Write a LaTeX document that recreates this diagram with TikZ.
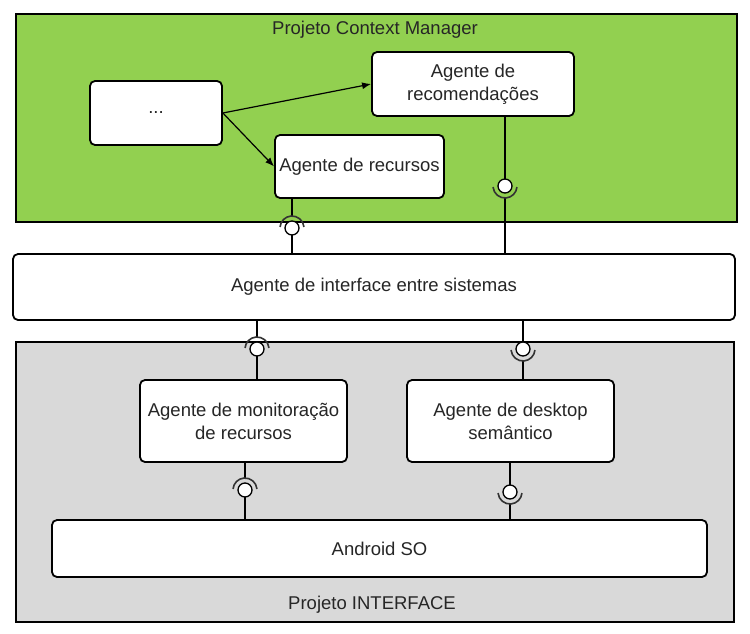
\documentclass[tikz,border=0pt]{standalone}
\usepackage{fontspec}
\setmainfont{Liberation Sans}
\definecolor{cmGreen}{HTML}{92D050}
\definecolor{ifGray}{HTML}{D9D9D9}
\definecolor{txtGray}{HTML}{262626}
\usetikzlibrary{positioning,arrows.meta,calc}

\begin{document}
\begin{tikzpicture}[x=1pt, y=1pt,
  every node/.style={text=txtGray, font=\fontsize{18.5}{23}\selectfont},
  container/.style={draw=black, line width=1.8pt, inner sep=0pt},
  agente/.style={draw=black, line width=1.8pt, rounded corners=5pt, fill=white, align=center, inner sep=0pt},
  wire/.style={black, line width=1.2pt},
  socket/.style={black!80, line width=1.6pt},
  ball/.style={draw=black, fill=white, line width=1.3pt}]
\useasboundingbox (0,0) rectangle (750,-634);
% containers
\node[container, fill=cmGreen, minimum width=721pt, minimum height=208pt] (cm) at (376.5,-118) {};
\node at (375,-30) {Projeto Context Manager};
\node[container, fill=ifGray, minimum width=718pt, minimum height=280pt] (proj) at (375,-482) {};
\node at (372,-605) {Projeto INTERFACE};
% agents
\node[agente, minimum width=132pt, minimum height=64pt] (dots) at (156,-113) {...};
\node[agente, minimum width=202pt, minimum height=64pt] (recom) at (473,-84) {Agente de\\recomendações};
\node[agente, minimum width=169pt, minimum height=63pt] (recursos) at (359.5,-166.5) {Agente de recursos};
\node[agente, minimum width=722pt, minimum height=66pt] (iface) at (374,-287) {Agente de interface entre sistemas};
\node[agente, minimum width=207pt, minimum height=82pt] (monit) at (243.5,-421) {Agente de monitoração\\de recursos};
\node[agente, minimum width=207pt, minimum height=82pt] (desk) at (510.5,-421) {Agente de desktop\\semântico};
\node[agente, minimum width=655pt, minimum height=57pt] (android) at (379.5,-548.5) {Android SO};
% dependencies
\draw[wire, -{Latex[length=9pt, width=7pt]}] (dots.east) -- (recom.west);
\draw[wire, -{Latex[length=9pt, width=7pt]}] (dots.east) -- (recursos.west);
% ball and socket joints
\coordinate (s1) at (292,-228);
\coordinate (s2) at (505,-186);
\coordinate (s3) at (257,-349);
\coordinate (s4) at (523,-349);
\coordinate (s5) at (245,-490);
\coordinate (s6) at (510,-492);
% socket above the ball
\foreach \s/\up/\dn in {s1/recursos/iface, s3/iface/monit, s5/monit/android}{
  \draw[wire] (\s |- \up.south) -- ($(\s)+(0,12)$);
  \draw[wire] ($(\s)+(0,-7)$) -- (\s |- \dn.north);
  \draw[socket] ($(\s)+(5:12pt)$) arc[start angle=5, end angle=175, radius=12pt];
  \draw[ball] (\s) circle[radius=7pt];
}
% socket below the ball
\foreach \s/\up/\dn in {s2/recom/iface, s4/iface/desk, s6/desk/android}{
  \draw[wire] (\s |- \up.south) -- ($(\s)+(0,7)$);
  \draw[wire] ($(\s)+(0,-12)$) -- (\s |- \dn.north);
  \draw[socket] ($(\s)+(185:12pt)$) arc[start angle=185, end angle=355, radius=12pt];
  \draw[ball] (\s) circle[radius=7pt];
}
\end{tikzpicture}
\end{document}
